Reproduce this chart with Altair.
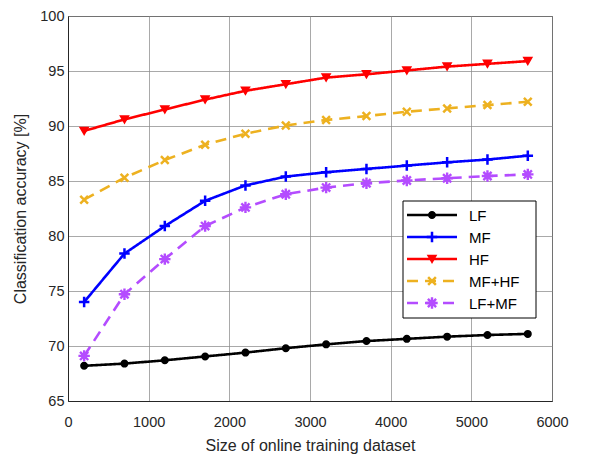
import altair as alt
import pandas as pd

sizes = [200, 700, 1200, 1700, 2200, 2700, 3200, 3700, 4200, 4700, 5200, 5700]
lf = [68.2, 68.4, 68.7, 69.05, 69.4, 69.8, 70.15, 70.45, 70.65, 70.85, 71.0, 71.1]
mf = [74.0, 78.4, 80.9, 83.2, 84.6, 85.4, 85.8, 86.1, 86.4, 86.7, 86.95, 87.3]
hf = [89.55, 90.6, 91.5, 92.4, 93.2, 93.8, 94.4, 94.7, 95.05, 95.4, 95.65, 95.9]
mf_hf = [83.3, 85.3, 86.9, 88.3, 89.3, 90.05, 90.55, 90.9, 91.3, 91.6, 91.9, 92.2]
lf_mf = [69.1, 74.7, 77.9, 80.9, 82.6, 83.8, 84.4, 84.8, 85.05, 85.25, 85.45, 85.6]
names = ["LF", "MF", "HF", "MF+HF", "LF+MF"]
values = [lf, mf, hf, mf_hf, lf_mf]

PLUS = "M-1,0H1M0,-1V1"
XMARK = "M-1,-1L1,1M-1,1L1,-1"
STAR = "M-1,0H1M0,-1V1M-0.72,-0.72L0.72,0.72M-0.72,0.72L0.72,-0.72"

styles = {
    "LF": dict(color="#000000", dash=[1, 0], shape="circle", filled=True, size=42, sw=1.5),
    "MF": dict(color="#0000FF", dash=[1, 0], shape=PLUS, filled=False, size=110, sw=2.5),
    "HF": dict(color="#FF0000", dash=[1, 0], shape="triangle-down", filled=True, size=65, sw=1.5),
    "MF+HF": dict(color="#EDB120", dash=[11, 7], shape=XMARK, filled=False, size=60, sw=2.5),
    "LF+MF": dict(color="#B44CFF", dash=[11, 7], shape=STAR, filled=False, size=130, sw=2.4),
}

xscale = alt.Scale(domain=[0, 6000], nice=False)
yscale = alt.Scale(domain=[65, 100], nice=False, zero=False)
xaxis = alt.Axis(values=list(range(0, 6001, 1000)), title="Size of online training dataset",
                 format="d", ticks=False, labelFlush=False, labelPadding=14, titlePadding=9)
yaxis = alt.Axis(values=list(range(65, 101, 5)), title="Classification accuracy [%]",
                 ticks=False, labelFlush=False, labelPadding=4, titlePadding=11)

layers = []
for name, vals in zip(names, values):
    st = styles[name]
    df = pd.DataFrame({"size": sizes, "acc": vals, "series": name})
    base = alt.Chart(df).encode(
        x=alt.X("size:Q", scale=xscale, axis=xaxis),
        y=alt.Y("acc:Q", scale=yscale, axis=yaxis),
    )
    line = base.mark_line(color=st["color"], strokeWidth=2.6, strokeDash=st["dash"])
    if st["filled"]:
        pts = base.mark_point(shape=st["shape"], filled=True, color=st["color"], size=st["size"],
                              stroke=st["color"], strokeWidth=st["sw"], opacity=1)
    else:
        pts = base.mark_point(shape=st["shape"], filled=False, color=st["color"], size=st["size"],
                              strokeWidth=st["sw"], opacity=1)
    layers += [line, pts]

# legend (layout positions in pixels within the plot area)
one = pd.DataFrame({"k": [0]})
box = alt.Chart(one).mark_rect(fill="white", stroke="#000000", strokeWidth=1).encode(
    x=alt.value(335), x2=alt.value(468), y=alt.value(185), y2=alt.value(302))
layers.append(box)
for i, name in enumerate(names):
    st = styles[name]
    yy = 199 + 22 * i
    ldf = pd.DataFrame({"label": [name]})
    rule = alt.Chart(ldf).mark_rule(color=st["color"], strokeWidth=2.6, strokeDash=st["dash"]).encode(
        x=alt.value(339), x2=alt.value(389), y=alt.value(yy))
    if st["filled"]:
        mk = alt.Chart(ldf).mark_point(shape=st["shape"], filled=True, color=st["color"], size=st["size"],
                                       stroke=st["color"], strokeWidth=st["sw"], opacity=1)
    else:
        mk = alt.Chart(ldf).mark_point(shape=st["shape"], filled=False, color=st["color"], size=st["size"],
                                       strokeWidth=st["sw"], opacity=1)
    mk = mk.encode(x=alt.value(364), y=alt.value(yy))
    txt = alt.Chart(ldf).mark_text(align="left", baseline="middle", fontSize=15,
                                   font="Liberation Sans", color="#000000").encode(
        x=alt.value(401), y=alt.value(yy + 1), text="label:N")
    layers += [rule, mk, txt]

chart = alt.layer(*layers).properties(
    width=484, height=385,
    autosize=alt.AutoSizeParams(type="none"),
    padding={"left": 60, "top": 8, "right": 40, "bottom": 60},
    background="white",
).configure_view(
    stroke="#262626", strokeWidth=1
).configure_axis(
    labelFont="Liberation Sans", titleFont="Liberation Sans",
    labelFontSize=14.5, titleFontSize=16, titleFontWeight="normal",
    labelColor="#262626", titleColor="#262626",
    grid=True, gridColor="#8c8c8c", gridOpacity=0.75, gridWidth=1,
    domain=True, domainColor="#262626", domainWidth=1,
)

chart.save("out.html", embed_options={"renderer": "svg", "actions": False})
